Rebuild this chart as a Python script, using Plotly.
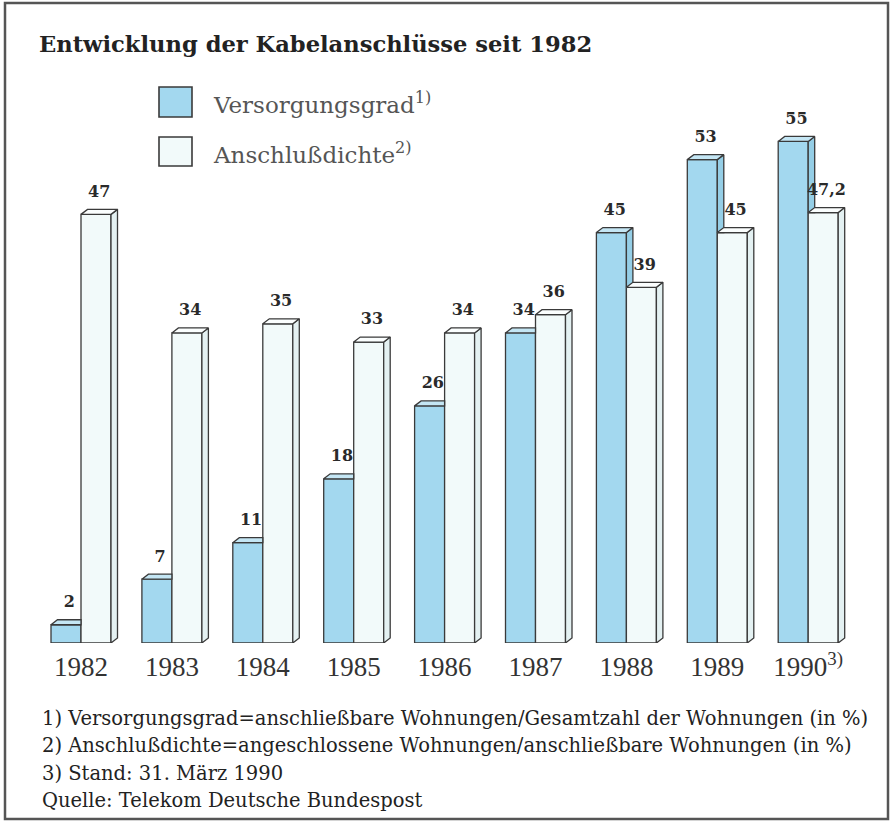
import plotly.graph_objects as go

# ---------------- data ----------------
years = ["1982", "1983", "1984", "1985", "1986", "1987", "1988", "1989", "1990"]
tick_labels = ["1982", "1983", "1984", "1985", "1986", "1987", "1988", "1989", "1990<sup>3)</sup>"]
versorgungsgrad = [2, 7, 11, 18, 26, 34, 45, 53, 55]
anschlussdichte = [47, 34, 35, 33, 34, 36, 39, 45, 47.2]
series_names = ["Versorgungsgrad<sup>1)</sup>", "Anschlußdichte<sup>2)</sup>"]
title = "Entwicklung der Kabelanschlüsse seit 1982"
footnotes = [
    "1) Versorgungsgrad=anschließbare Wohnungen/Gesamtzahl der Wohnungen (in %)",
    "2) Anschlußdichte=angeschlossene Wohnungen/anschließbare Wohnungen (in %)",
    "3) Stand: 31. März 1990",
    "Quelle: Telekom Deutsche Bundespost",
]

# ---------------- geometry / style ----------------
W_FIG, H_FIG = 893, 825
ML, MR, MT, MB = 36, 27, 100, 182
PX_X = 90.9          # pixels per x unit
PX_Y = 9.12          # pixels per y unit
plot_w = W_FIG - ML - MR
plot_h = H_FIG - MT - MB
x0 = (ML - 81) / PX_X
x_range = [x0, x0 + plot_w / PX_X]
y_range = [0, plot_h / PX_Y]

BW = 0.33                 # bar width (x units)
DX = 6.5 / PX_X           # depth in x
DY = 5.0 / PX_Y           # depth in y

BLUE_FRONT = "#a3d8ef"
BLUE_SIDE = "#95cee6"
BLUE_TOP = "#c4e6f4"
WHITE_FRONT = "#f2fafa"
WHITE_SIDE = "#e4f1f2"
WHITE_TOP = "#fbfefe"
EDGE = "#3a3a3a"
EW = 1.3


def fmt(v):
    s = ("%g" % v)
    return s.replace(".", ",")


def px_to_paper_x(px):
    return (px - ML) / plot_w


def px_to_paper_y(py):
    return (H_FIG - MB - py) / plot_h


xs = list(range(len(years)))
fig = go.Figure()

# front faces as bars
fig.add_trace(go.Bar(x=xs, y=versorgungsgrad, offset=-BW, width=BW,
                     marker=dict(color=BLUE_FRONT, line=dict(color=EDGE, width=EW)),
                     name="Versorgungsgrad", showlegend=False, hoverinfo="y"))
fig.add_trace(go.Bar(x=xs, y=anschlussdichte, offset=0, width=BW,
                     marker=dict(color=WHITE_FRONT, line=dict(color=EDGE, width=EW)),
                     name="Anschlußdichte", showlegend=False, hoverinfo="y"))


def poly_trace(px, py, color):
    return go.Scatter(x=px, y=py, mode="lines", fill="toself", fillcolor=color,
                      line=dict(color=EDGE, width=EW), hoverinfo="skip", showlegend=False)


bsx, bsy, btx, bty = [], [], [], []
wsx, wsy, wtx, wty = [], [], [], []
for i, (b, w) in enumerate(zip(versorgungsgrad, anschlussdichte)):
    if b > w:
        bsx += [i, i + DX, i + DX, i, i, None]
        bsy += [w, w, b + DY, b, w, None]
        btx += [i - BW, i, i + DX, i - BW + DX, i - BW, None]
        bty += [b, b, b + DY, b + DY, b, None]
    else:
        btx += [i - BW, i, i, i - BW + DX, i - BW, None]
        bty += [b, b, b + DY, b + DY, b, None]
    wsx += [i + BW, i + BW + DX, i + BW + DX, i + BW, i + BW, None]
    wsy += [0, DY, w + DY, w, 0, None]
    wtx += [i, i + BW, i + BW + DX, i + DX, i, None]
    wty += [w, w, w + DY, w + DY, w, None]

fig.add_trace(poly_trace(bsx, bsy, BLUE_SIDE))
fig.add_trace(poly_trace(btx, bty, BLUE_TOP))
fig.add_trace(poly_trace(wsx, wsy, WHITE_SIDE))
fig.add_trace(poly_trace(wtx, wty, WHITE_TOP))

# value labels
lab_font = dict(family="DejaVu Serif", size=16, color="#2a2a2a", weight="bold")
LAB_OFF = 0.95
fig.add_trace(go.Scatter(
    x=[i - BW / 2 + DX / 2 for i in xs],
    y=[v + DY + LAB_OFF for v in versorgungsgrad],
    text=[fmt(v) for v in versorgungsgrad], mode="text", textposition="top center",
    textfont=lab_font, hoverinfo="skip", showlegend=False, cliponaxis=False))
fig.add_trace(go.Scatter(
    x=[i + BW / 2 + DX / 2 for i in xs],
    y=[v + DY + LAB_OFF for v in anschlussdichte],
    text=[fmt(v) for v in anschlussdichte], mode="text", textposition="top center",
    textfont=lab_font, hoverinfo="skip", showlegend=False, cliponaxis=False))

shapes = []
annotations = []

# frame
shapes.append(dict(type="rect", xref="paper", yref="paper",
                   x0=px_to_paper_x(5), x1=px_to_paper_x(888),
                   y0=px_to_paper_y(819), y1=px_to_paper_y(3),
                   line=dict(color="#555555", width=2.5), fillcolor="rgba(0,0,0,0)", layer="below"))

# title
annotations.append(dict(text="<b>%s</b>" % title, xref="paper", yref="paper",
                        x=px_to_paper_x(37), y=px_to_paper_y(44), xanchor="left", yanchor="middle",
                        showarrow=False, font=dict(family="DejaVu Serif", size=22.6, color="#222222")))

# legend (custom)
leg = [(BLUE_FRONT, 87, 117, 103), (WHITE_FRONT, 137, 166, 153)]
for (col, ytop, ybot, yc), name in zip(leg, series_names):
    shapes.append(dict(type="rect", xref="paper", yref="paper",
                       x0=px_to_paper_x(159), x1=px_to_paper_x(192),
                       y0=px_to_paper_y(ybot), y1=px_to_paper_y(ytop),
                       line=dict(color=EDGE, width=1.6), fillcolor=col))
    annotations.append(dict(text=name, xref="paper", yref="paper",
                            x=px_to_paper_x(211), y=px_to_paper_y(yc), xanchor="left", yanchor="middle",
                            showarrow=False, font=dict(family="DejaVu Serif", size=23, color="#555555")))

# footnotes
for k, (line, yc) in enumerate(zip(footnotes, [718, 745, 773, 800])):
    annotations.append(dict(text=line, xref="paper", yref="paper",
                            x=px_to_paper_x(40), y=px_to_paper_y(yc), xanchor="left", yanchor="middle",
                            showarrow=False, font=dict(family="DejaVu Serif", size=19.5, color="#222222")))

fig.update_layout(
    width=W_FIG, height=H_FIG,
    margin=dict(l=ML, r=MR, t=MT, b=MB),
    paper_bgcolor="white", plot_bgcolor="white",
    barmode="overlay",
    xaxis=dict(range=x_range, tickmode="array", tickvals=xs, ticktext=tick_labels,
               showgrid=False, zeroline=False, showline=False, ticks="",
               ticklabelstandoff=5,
               tickfont=dict(family="Liberation Serif", size=27, color="#333333"),
               fixedrange=True),
    yaxis=dict(range=y_range, showgrid=False, zeroline=False, showline=False,
               showticklabels=False, ticks="", fixedrange=True),
    shapes=shapes, annotations=annotations,
)

fig.write_html("out.html", config={"displayModeBar": False},
               post_script="document.body.style.margin='0';document.body.style.overflow='hidden';")
